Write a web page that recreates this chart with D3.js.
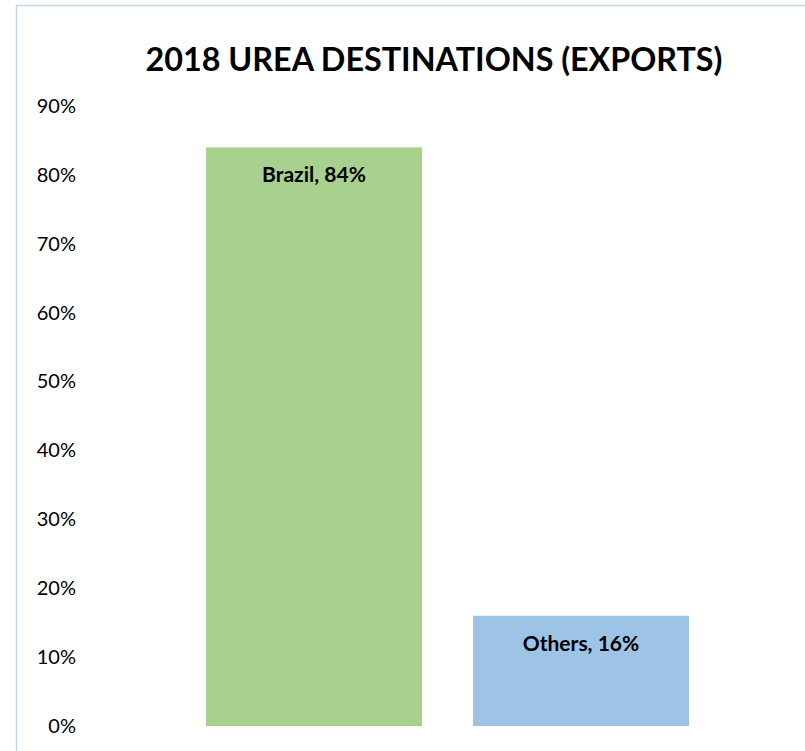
<!DOCTYPE html>
<html>
<head>
<meta charset="utf-8">
<script src="https://cdn.jsdelivr.net/npm/d3@7"></script>
<style>
  body { margin: 0; background: #fff; }
  svg { display: block; font-family: Lato, "Open Sans", sans-serif; }
</style>
</head>
<body>
<div id="chart"></div>
<script>
// Chart data
var destinations = ["Brazil", "Others"];
var shares = [0.84, 0.16];
var yTicks = [0, 0.1, 0.2, 0.3, 0.4, 0.5, 0.6, 0.7, 0.8, 0.9];
var barColors = ["#a9d18e", "#9dc3e6"];

// SVG area
var svgWidth = 805;
var svgHeight = 751;

var chartMargin = { top: 106, right: 116, bottom: 25, left: 206 };
var width = svgWidth - chartMargin.left - chartMargin.right;
var height = svgHeight - chartMargin.top - chartMargin.bottom;

var svg = d3.select("#chart")
    .append("svg")
    .attr("width", svgWidth)
    .attr("height", svgHeight);

// chart area border (only top and left edges fall inside the picture)
svg.append("path")
    .attr("d", "M16.5,751 L16.5,5.5 L805,5.5")
    .attr("fill", "none")
    .attr("stroke", "#bdd7ee")
    .attr("stroke-width", 1.5);

var chartGroup = svg.append("g")
    .attr("transform", `translate(${chartMargin.left}, ${chartMargin.top})`);

// scales
var xBandScale = d3.scaleBand()
    .domain(destinations)
    .range([0, width])
    .paddingInner(0.191)
    .paddingOuter(0);

var yLinearScale = d3.scaleLinear()
    .domain([0, 0.9])
    .range([height, 0]);

// y axis, labels only
var leftAxis = d3.axisLeft(yLinearScale)
    .tickValues(yTicks)
    .tickFormat(d3.format(".0%"))
    .tickSize(0)
    .tickPadding(130);

var yAxis = chartGroup.append("g")
    .call(leftAxis);
yAxis.select(".domain").remove();
yAxis.selectAll("text")
    .attr("font-family", "Lato, sans-serif")
    .attr("font-size", 20)
    .attr("fill", "#000");

// bars
chartGroup.selectAll("rect.bar")
    .data(destinations)
    .enter()
    .append("rect")
    .attr("class", "bar")
    .attr("x", d => xBandScale(d))
    .attr("y", (d, i) => yLinearScale(shares[i]))
    .attr("width", xBandScale.bandwidth())
    .attr("height", (d, i) => height - yLinearScale(shares[i]))
    .attr("fill", (d, i) => barColors[i]);

// bar labels
chartGroup.selectAll("text.bar-label")
    .data(destinations)
    .enter()
    .append("text")
    .attr("class", "bar-label")
    .attr("x", d => xBandScale(d) + xBandScale.bandwidth() / 2)
    .attr("y", (d, i) => yLinearScale(shares[i]) + 35)
    .attr("text-anchor", "middle")
    .attr("font-weight", "bold")
    .attr("font-size", 21)
    .attr("fill", "#000")
    .text((d, i) => d + ", " + d3.format(".0%")(shares[i]));

// title
svg.append("text")
    .attr("x", 434)
    .attr("y", 71)
    .attr("text-anchor", "middle")
    .attr("font-weight", "bold")
    .attr("font-size", 32.3)
    .attr("fill", "#000")
    .text("2018 UREA DESTINATIONS (EXPORTS)");
</script>
</body>
</html>
